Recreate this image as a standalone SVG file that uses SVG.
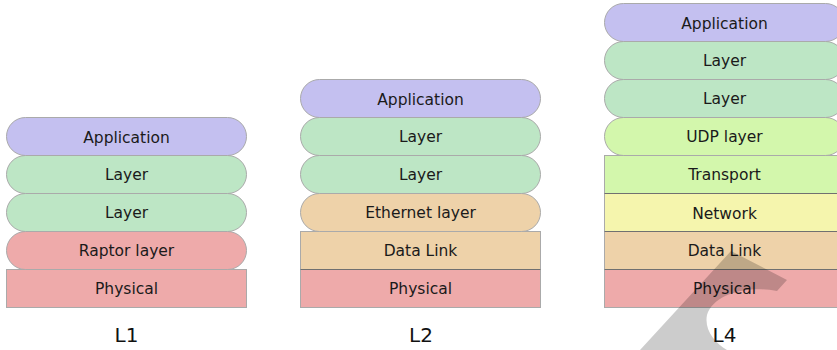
<svg xmlns="http://www.w3.org/2000/svg" width="837" height="350" viewBox="0 0 837 350">
<style>
.st{stroke:#aaaaaa;stroke-width:1}
.sep{stroke:#707070;stroke-width:1}
.app{fill:#c4c0f0}
.lay{fill:#bde6c5}
.red{fill:#eeaaaa}
.tan{fill:#eed2a9}
.lg{fill:#d3f7ac}
.yel{fill:#f5f5ad}
text{font-family:"DejaVu Sans",Verdana,sans-serif;font-size:15.5px;fill:#1a1a1a;text-anchor:middle}
text.cap{font-size:20px;fill:#111}
</style>
<rect width="837" height="350" fill="#ffffff"/>
<g id="L1">
<g id="l1-physical"><rect class="red st" x="6.5" y="269.5" width="240" height="38"/><text x="126.5" y="293.5">Physical</text></g>
<g id="l1-raptor"><rect class="red st" x="6.5" y="231.5" width="240" height="38" rx="19"/><text x="126.5" y="255.5">Raptor layer</text></g>
<g id="l1-layer2"><rect class="lay st" x="6.5" y="193.5" width="240" height="38" rx="19"/><text x="126.5" y="217.5">Layer</text></g>
<g id="l1-layer1"><rect class="lay st" x="6.5" y="155.5" width="240" height="38" rx="19"/><text x="126.5" y="179.5">Layer</text></g>
<g id="l1-app"><rect class="app st" x="6.5" y="117.5" width="240" height="38" rx="19"/><text x="126.5" y="142.5">Application</text></g>
<text class="cap" x="126.5" y="342">L1</text>
</g>
<g id="L2">
<g id="l2-physical"><rect class="red st" x="300.5" y="269.5" width="240" height="38"/><text x="420.5" y="293.5">Physical</text></g>
<g id="l2-datalink"><rect class="tan st" x="300.5" y="231.5" width="240" height="38"/><text x="420.5" y="255.5">Data Link</text></g>
<g id="l2-ethernet"><rect class="tan st" x="300.5" y="193.5" width="240" height="38" rx="19"/><text x="420.5" y="217.5">Ethernet layer</text></g>
<g id="l2-layer2"><rect class="lay st" x="300.5" y="155.5" width="240" height="38" rx="19"/><text x="420.5" y="179.5">Layer</text></g>
<g id="l2-layer1"><rect class="lay st" x="300.5" y="117.5" width="240" height="38" rx="19"/><text x="420.5" y="141.5">Layer</text></g>
<g id="l2-app"><rect class="app st" x="300.5" y="79.5" width="240" height="38" rx="19"/><text x="420.5" y="104.5">Application</text></g>
<line class="sep" x1="300.5" y1="269.5" x2="540.5" y2="269.5"/>
<text class="cap" x="421" y="342">L2</text>
</g>
<g id="L4">
<g id="l4-physical"><rect class="red st" x="604.5" y="269.5" width="240" height="38"/><text x="724.5" y="293.5">Physical</text></g>
<g id="l4-datalink"><rect class="tan st" x="604.5" y="231.5" width="240" height="38"/><text x="724.5" y="255.5">Data Link</text></g>
<g id="l4-network"><rect class="yel st" x="604.5" y="193.5" width="240" height="38"/><text x="724.5" y="218.5">Network</text></g>
<g id="l4-transport"><rect class="lg st" x="604.5" y="155.5" width="240" height="38"/><text x="724.5" y="179.5">Transport</text></g>
<g id="l4-udp"><rect class="lg st" x="604.5" y="117.5" width="240" height="38" rx="19"/><text x="724.5" y="141.5">UDP layer</text></g>
<g id="l4-layer2"><rect class="lay st" x="604.5" y="79.5" width="240" height="38" rx="19"/><text x="724.5" y="103.5">Layer</text></g>
<g id="l4-layer1"><rect class="lay st" x="604.5" y="41.5" width="240" height="38" rx="19"/><text x="724.5" y="65.5">Layer</text></g>
<g id="l4-app"><rect class="app st" x="604.5" y="3.5" width="240" height="38" rx="19"/><text x="724.5" y="28.5">Application</text></g>
<line class="sep" x1="604.5" y1="193.5" x2="837" y2="193.5"/>
<line class="sep" x1="604.5" y1="231.5" x2="837" y2="231.5"/>
<line class="sep" x1="604.5" y1="269.5" x2="837" y2="269.5"/>
<text class="cap" x="724.5" y="342">L4</text>
</g>
<g id="connectors"></g>
<path d="M640,350 L731,251 L787,280 L777,291 C745,285 713,295 707,315 C704,330 715,343 727,350 Z" fill="#000000" fill-opacity="0.2"/>
</svg>
